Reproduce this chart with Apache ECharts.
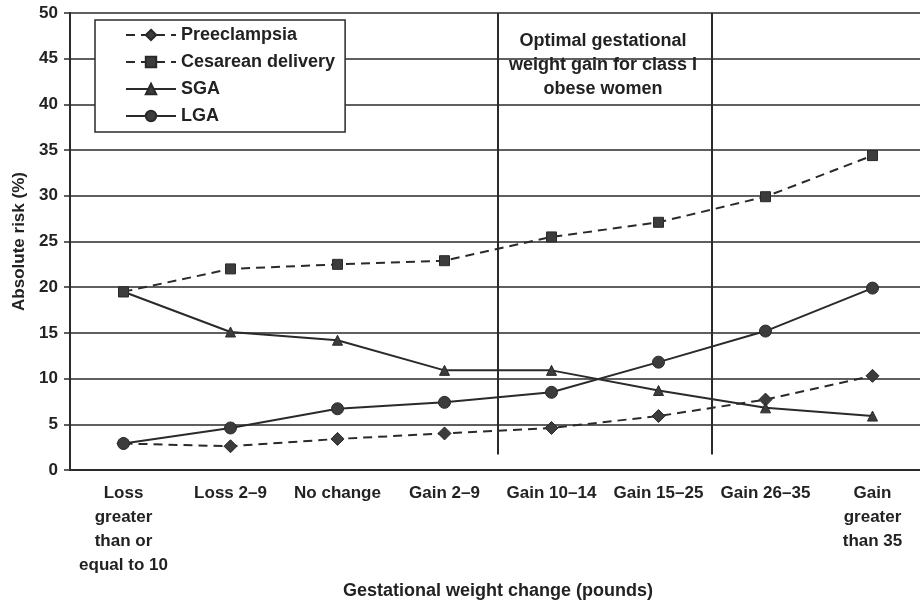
<!DOCTYPE html>
<html>
<head>
<meta charset="utf-8">
<script src="https://cdn.jsdelivr.net/npm/echarts@6/dist/echarts.min.js"></script>
<style>
  html, body { margin: 0; padding: 0; background: #fff; }
  #chart { width: 920px; height: 603px; }
</style>
</head>
<body>
<div id="chart"></div>
<script>
  // categories on the x axis
  var categories = [
    'Loss\ngreater\nthan or\nequal to 10',
    'Loss 2–9',
    'No change',
    'Gain 2–9',
    'Gain 10–14',
    'Gain 15–25',
    'Gain 26–35',
    'Gain\ngreater\nthan 35'
  ]

  // absolute risk (%)
  var preeclampsia = [2.9, 2.6, 3.4, 4.0, 4.6, 5.9, 7.7, 10.3]
  var cesarean = [19.5, 22.0, 22.5, 22.9, 25.5, 27.1, 29.9, 34.4]
  var sga = [19.5, 15.1, 14.2, 10.9, 10.9, 8.7, 6.8, 5.9]
  var lga = [2.9, 4.6, 6.7, 7.4, 8.5, 11.8, 15.2, 19.9]

  // vertical dividers around the optimal gain range (between categories)
  var dividers = [3.5, 5.5]
  var dividerRange = [1.7, 50]

  var ink = '#2a2a2a'
  var font = "'Liberation Sans', Arial, sans-serif"

  var chart = echarts.init(document.getElementById('chart'))

  function riskSeries(name, data, symbol, size, dashed, z) {
    return {
      name: name,
      type: 'line',
      data: data,
      symbol: symbol,
      symbolSize: size,
      z: z,
      itemStyle: { color: '#3c3c3c', borderColor: ink, borderWidth: 1 },
      lineStyle: { color: ink, width: 2, type: dashed ? [9, 6] : 'solid' },
      emphasis: { disabled: true }
    }
  }

  var series = [
    riskSeries('Preeclampsia', preeclampsia, 'diamond', 13, true, 2),
    riskSeries('Cesarean delivery', cesarean, 'rect', 10, true, 4),
    riskSeries('SGA', sga, 'triangle', 10, false, 3),
    riskSeries('LGA', lga, 'circle', 12, false, 4)
  ]

  dividers.forEach(function (x) {
    series.push({
      type: 'line',
      xAxisIndex: 1,
      data: [[x, dividerRange[0]], [x, dividerRange[1]]],
      symbol: 'none',
      lineStyle: { color: ink, width: 2 },
      silent: true,
      z: 1
    })
  })

  chart.setOption({
    animation: false,
    backgroundColor: '#fff',
    textStyle: { fontFamily: font },
    grid: { left: 70, top: 13, width: 856, height: 457, outerBoundsMode: 'none' },
    legend: {
      data: ['Preeclampsia', 'Cesarean delivery', 'SGA', 'LGA'],
      orient: 'vertical',
      left: 95,
      top: 20,
      padding: [6, 10, 7, 30],
      itemWidth: 50,
      itemHeight: 13,
      itemGap: 9,
      backgroundColor: '#fff',
      borderColor: ink,
      borderWidth: 1.5,
      textStyle: { fontSize: 18, fontWeight: 'bold', color: '#222', fontFamily: font }
    },
    xAxis: [
      {
        type: 'category',
        data: categories,
        boundaryGap: true,
        name: 'Gestational weight change (pounds)',
        nameLocation: 'middle',
        nameGap: 111,
        nameTextStyle: { fontSize: 18, fontWeight: 'bold', color: '#222', verticalAlign: 'top' },
        axisLine: { lineStyle: { color: ink, width: 2 } },
        axisTick: { length: 5, lineStyle: { color: ink, width: 1.5 } },
        axisLabel: {
          interval: 0,
          margin: 11,
          fontSize: 17,
          fontWeight: 'bold',
          color: '#222',
          lineHeight: 24
        }
      },
      {
        type: 'value',
        min: -0.5,
        max: 7.5,
        show: false
      }
    ],
    yAxis: {
      type: 'value',
      min: 0,
      max: 50,
      interval: 5,
      name: 'Absolute risk (%)',
      nameLocation: 'middle',
      nameGap: 41,
      nameTextStyle: { fontSize: 17, fontWeight: 'bold', color: '#222' },
      axisLine: { show: true, onZero: false, lineStyle: { color: ink, width: 2 } },
      axisTick: { show: true, length: 6, lineStyle: { color: ink, width: 1.5 } },
      axisLabel: { margin: 12, fontSize: 17, fontWeight: 'bold', color: '#222' },
      splitLine: { lineStyle: { color: ink, width: 1.5 } }
    },
    graphic: [
      {
        type: 'text',
        z: 10,
        style: {
          text: 'Optimal gestational\nweight gain for class I\nobese women',
          x: 603,
          y: 29,
          textAlign: 'center',
          textVerticalAlign: 'top',
          font: 'bold 18px ' + font,
          lineHeight: 24,
          fill: '#222'
        }
      }
    ],
    series: series
  })
</script>
</body>
</html>
